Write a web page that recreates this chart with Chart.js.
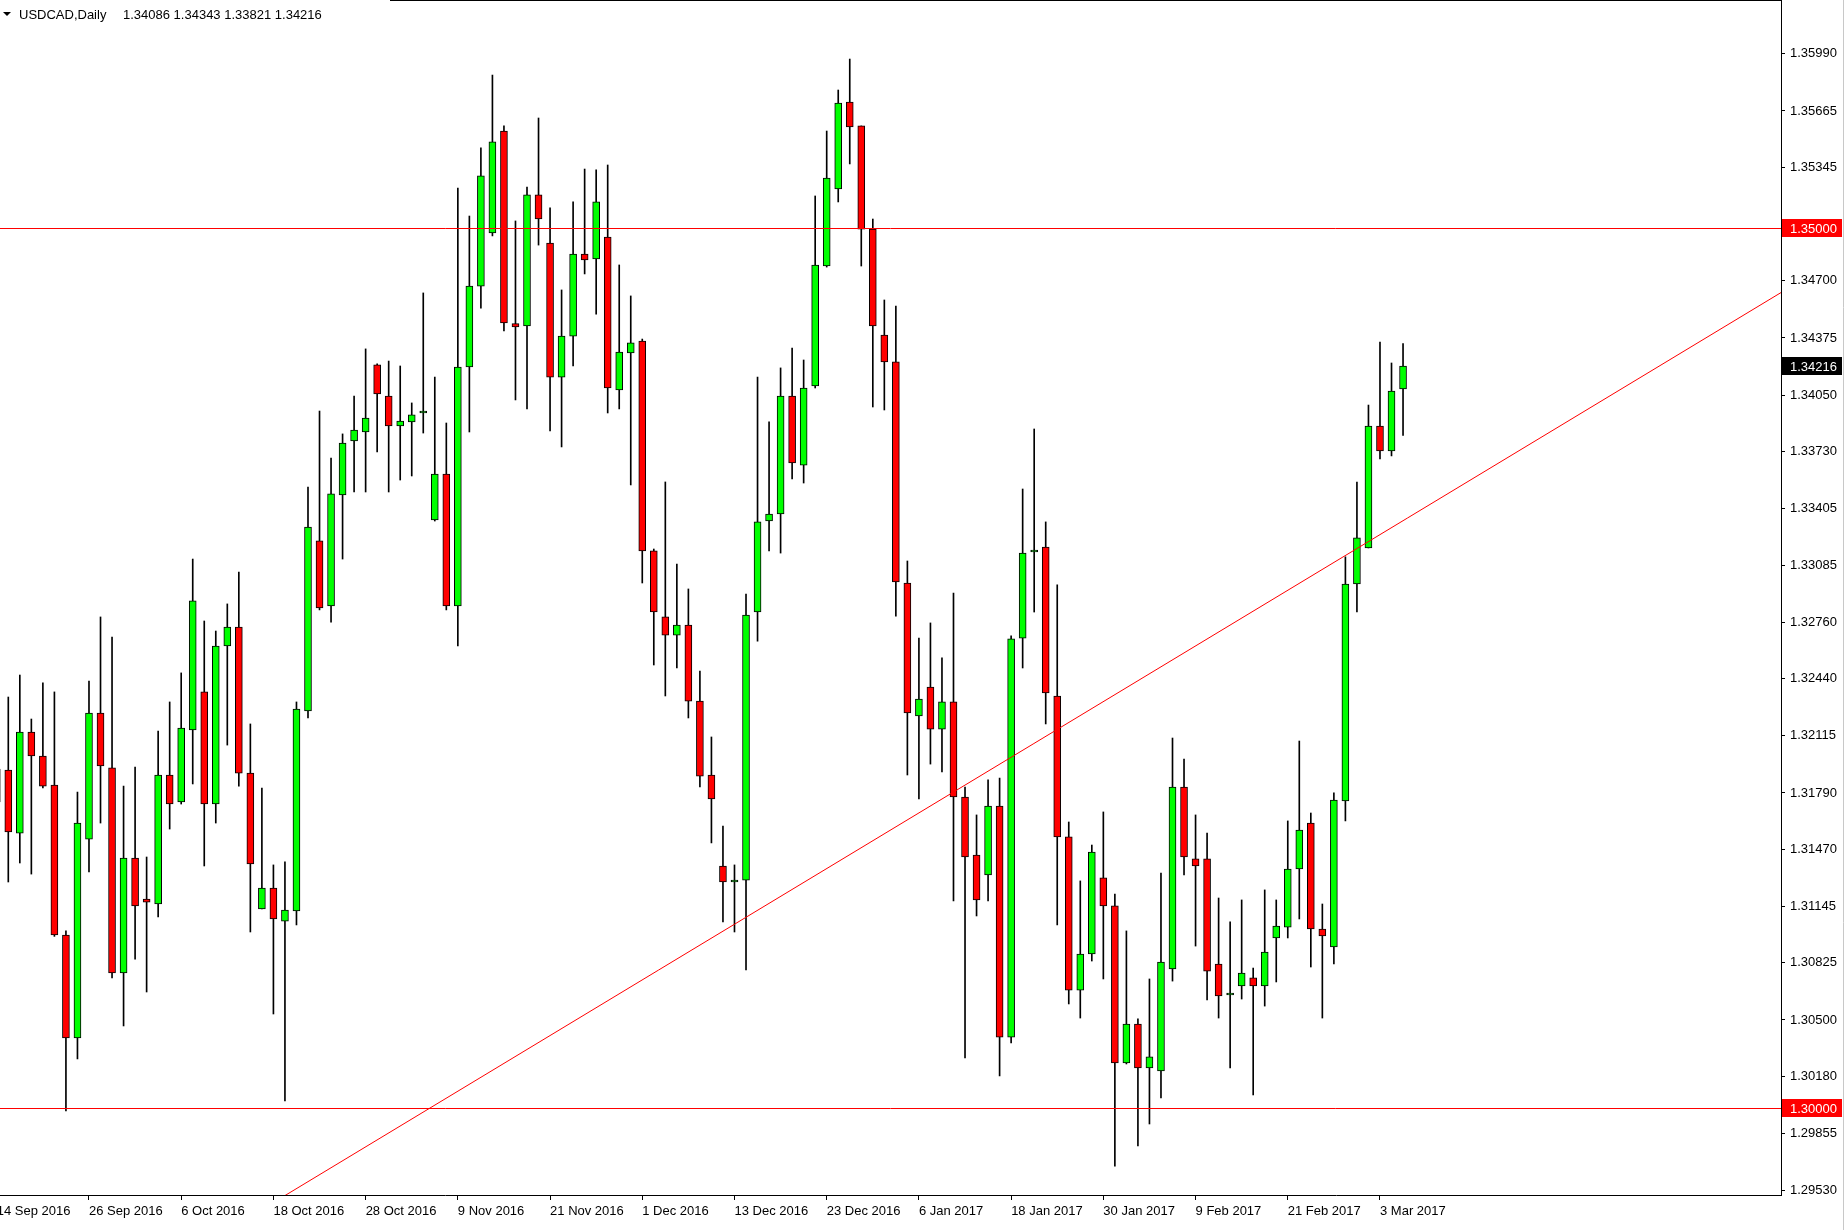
<!DOCTYPE html>
<html>
<head>
<meta charset="utf-8">
<title>USDCAD,Daily</title>
<script src="https://cdn.jsdelivr.net/npm/chart.js@4.4.1/dist/chart.umd.min.js"></script>
<style>
  html, body { margin: 0; padding: 0; background: #fff; overflow: hidden; }
  canvas { display: block; }
</style>
</head>
<body>
<canvas id="myChart" width="1845" height="1230"></canvas>
<script>
    const symbol = 'USDCAD,Daily';

    // daily candles, 14 Sep 2016 .. 7 Mar 2017
    const opens = [
        1.31739, 1.31920, 1.31562, 1.32136, 1.32000, 1.31835, 1.30983, 1.30398, 1.31528, 1.32244,
        1.31932, 1.30767, 1.31420, 1.31187, 1.31159, 1.31892, 1.31739, 1.32148, 1.32364, 1.31727,
        1.32625, 1.32733, 1.31903, 1.31131, 1.31250, 1.31062, 1.31119, 1.32256, 1.33222, 1.32852,
        1.33483, 1.33790, 1.33841, 1.34222, 1.34045, 1.33875, 1.33898, 1.33949, 1.33341, 1.33602,
        1.32852, 1.34210, 1.34670, 1.34972, 1.35551, 1.34457, 1.34443, 1.35188, 1.34915, 1.34153,
        1.34386, 1.34852, 1.34824, 1.34949, 1.34080, 1.34290, 1.34358, 1.33165, 1.32790, 1.32687,
        1.32744, 1.32312, 1.31892, 1.31375, 1.31284, 1.31295, 1.32818, 1.33335, 1.33375, 1.34045,
        1.33653, 1.34102, 1.34784, 1.35222, 1.35716, 1.35580, 1.34994, 1.34392, 1.34239, 1.32983,
        1.32227, 1.32392, 1.32153, 1.32307, 1.31767, 1.31437, 1.31324, 1.31716, 1.30403, 1.32670,
        1.33159, 1.33187, 1.32341, 1.31540, 1.30670, 1.30875, 1.31307, 1.31148, 1.30256, 1.30477,
        1.30227, 1.30210, 1.30790, 1.31824, 1.31415, 1.31415, 1.30818, 1.30642, 1.30693, 1.30739,
        1.30693, 1.30966, 1.31028, 1.31358, 1.31619, 1.31017, 1.30915, 1.31744, 1.32977, 1.33182,
        1.33875, 1.33733, 1.34086
    ];
    const highs = [
        1.32062, 1.32335, 1.32460, 1.32210, 1.32415, 1.32364, 1.31006, 1.31795, 1.32426, 1.32790,
        1.32676, 1.31829, 1.31937, 1.31426, 1.32142, 1.32307, 1.32472, 1.33119, 1.32767, 1.32710,
        1.32864, 1.33045, 1.32182, 1.31818, 1.31381, 1.31398, 1.32307, 1.33528, 1.33960, 1.33693,
        1.33830, 1.34045, 1.34313, 1.34228, 1.34244, 1.34216, 1.34006, 1.34631, 1.34153, 1.33892,
        1.35227, 1.35068, 1.35455, 1.35869, 1.35580, 1.35040, 1.35233, 1.35625, 1.35114, 1.34648,
        1.35148, 1.35335, 1.35330, 1.35358, 1.34790, 1.34614, 1.34369, 1.33176, 1.33557, 1.33091,
        1.32949, 1.32483, 1.32108, 1.31602, 1.31381, 1.32920, 1.34153, 1.33898, 1.34205, 1.34318,
        1.34250, 1.35182, 1.35551, 1.35784, 1.35960, 1.35580, 1.35051, 1.34591, 1.34557, 1.33108,
        1.32670, 1.32756, 1.32557, 1.32926, 1.31824, 1.31665, 1.31864, 1.31875, 1.32682, 1.33517,
        1.33858, 1.33330, 1.32972, 1.31625, 1.31290, 1.31494, 1.31682, 1.31216, 1.31006, 1.30506,
        1.30733, 1.31335, 1.32102, 1.31983, 1.31665, 1.31562, 1.31193, 1.31057, 1.31182, 1.30795,
        1.31239, 1.31182, 1.31631, 1.32085, 1.31676, 1.31159, 1.31790, 1.33131, 1.33557, 1.33994,
        1.34352, 1.34233, 1.34343
    ];
    const lows = [
        1.31551, 1.31284, 1.31392, 1.31329, 1.31818, 1.30975, 1.29983, 1.30278, 1.31341, 1.31619,
        1.30739, 1.30466, 1.30846, 1.30659, 1.31085, 1.31585, 1.31727, 1.31841, 1.31375, 1.31619,
        1.32062, 1.31829, 1.31000, 1.31131, 1.30534, 1.30040, 1.31040, 1.32216, 1.32830, 1.32761,
        1.33119, 1.33500, 1.33500, 1.33727, 1.33500, 1.33568, 1.33591, 1.33835, 1.33335, 1.32830,
        1.32625, 1.33841, 1.34545, 1.34955, 1.34415, 1.34023, 1.33972, 1.34903, 1.33847, 1.33756,
        1.34216, 1.34739, 1.34511, 1.33949, 1.33972, 1.33540, 1.32983, 1.32517, 1.32341, 1.32500,
        1.32216, 1.31824, 1.31506, 1.31057, 1.31000, 1.30784, 1.32653, 1.33165, 1.33153, 1.33574,
        1.33551, 1.34091, 1.34778, 1.35148, 1.35364, 1.34784, 1.33983, 1.33966, 1.32795, 1.31892,
        1.31756, 1.31954, 1.31909, 1.31176, 1.30284, 1.31091, 1.31176, 1.30182, 1.30369, 1.32500,
        1.32818, 1.32182, 1.31040, 1.30591, 1.30511, 1.30835, 1.30733, 1.29670, 1.30250, 1.29784,
        1.29909, 1.30057, 1.30721, 1.31324, 1.30920, 1.30614, 1.30511, 1.30227, 1.30619, 1.30074,
        1.30579, 1.30716, 1.30966, 1.31074, 1.30801, 1.30511, 1.30818, 1.31631, 1.32818, 1.33182,
        1.33688, 1.33705, 1.33821
    ];
    const closes = [
        1.31926, 1.31568, 1.32136, 1.32000, 1.31829, 1.30983, 1.30398, 1.31619, 1.32244, 1.31943,
        1.30767, 1.31420, 1.31148, 1.31170, 1.31892, 1.31727, 1.32159, 1.32881, 1.31727, 1.32625,
        1.32733, 1.31903, 1.31386, 1.31250, 1.31074, 1.31125, 1.32267, 1.33301, 1.32841, 1.33489,
        1.33778, 1.33852, 1.33920, 1.34057, 1.33875, 1.33903, 1.33938, 1.33949, 1.33602, 1.32852,
        1.34210, 1.34670, 1.35296, 1.35489, 1.34460, 1.34438, 1.35188, 1.35051, 1.34153, 1.34386,
        1.34852, 1.34818, 1.35148, 1.34091, 1.34295, 1.34347, 1.33165, 1.32818, 1.32687, 1.32744,
        1.32312, 1.31886, 1.31756, 1.31284, 1.31284, 1.32801, 1.33330, 1.33375, 1.34045, 1.33665,
        1.34091, 1.34790, 1.35284, 1.35710, 1.35574, 1.34994, 1.34443, 1.34239, 1.32989, 1.32244,
        1.32324, 1.32153, 1.32307, 1.31767, 1.31426, 1.31182, 1.31716, 1.30403, 1.32665, 1.33153,
        1.33159, 1.32358, 1.31540, 1.30670, 1.30875, 1.31454, 1.31148, 1.30256, 1.30477, 1.30227,
        1.30290, 1.30829, 1.31824, 1.31426, 1.31375, 1.30778, 1.30636, 1.30642, 1.30767, 1.30693,
        1.30886, 1.31034, 1.31358, 1.31579, 1.31017, 1.30977, 1.31750, 1.32977, 1.33239, 1.33875,
        1.33733, 1.34074, 1.34216
    ];

    // date axis: bar number of each labelled day
    const dateTickBars = [0, 8, 16, 24, 32, 40, 48, 56, 64, 72, 80, 88, 96, 104, 112, 120];
    const dateTickLabels = [
        '14 Sep 2016', '26 Sep 2016', '6 Oct 2016', '18 Oct 2016', '28 Oct 2016', '9 Nov 2016',
        '21 Nov 2016', '1 Dec 2016', '13 Dec 2016', '23 Dec 2016', '6 Jan 2017', '18 Jan 2017',
        '30 Jan 2017', '9 Feb 2017', '21 Feb 2017', '3 Mar 2017'
    ];
    const priceTicks = [
        1.29530, 1.29855, 1.30180, 1.30500, 1.30825, 1.31145, 1.31470, 1.31790, 1.32115, 1.32440,
        1.32760, 1.33085, 1.33405, 1.33730, 1.34050, 1.34375, 1.34700, 1.35345, 1.35665, 1.35990
    ];

    // drawn objects
    const levels = [1.35000, 1.30000];
    const trendX = [0, 160];
    const trendY = [1.28514, 1.34839];

    const FONT = '13px "Liberation Sans", Arial, sans-serif';
    const last = closes.length - 1;

    const bodies = opens.map((o, i) => ({ x: i, y: [o, closes[i]] }));
    const wicks = lows.map((l, i) => ({ x: i, y: [l, highs[i]] }));
    const bodyColors = opens.map((o, i) => closes[i] >= o ? '#00ff00' : '#ff0000');

    // no auto padding from the tick labels, the axes sit on fixed edges
    function noPadding(s) {
        s.paddingTop = 0;
        s.paddingBottom = 0;
        s.paddingLeft = 0;
        s.paddingRight = 0;
    }

    function drawPriceBox(ctx, scale, value, bg) {
        const py = Math.round(scale.getPixelForValue(value));
        ctx.fillStyle = bg;
        ctx.fillRect(scale.left + 1, py - 9, 60, 18);
        ctx.fillStyle = '#fff';
        ctx.textBaseline = 'middle';
        ctx.textAlign = 'left';
        ctx.fillText(value.toFixed(5), scale.left + 9, py + 1);
    }

    const mt4Overlay = {
        id: 'mt4Overlay',
        beforeDraw(chart) {
            const ctx = chart.ctx;
            ctx.save();
            ctx.fillStyle = '#fff';
            ctx.fillRect(0, 0, chart.width, chart.height);
            ctx.restore();
        },
        afterDatasetsDraw(chart) {
            const { ctx, chartArea, scales: { y } } = chart;
            ctx.save();
            ctx.strokeStyle = '#ff0000';
            ctx.lineWidth = 1;
            levels.forEach(v => {
                const py = Math.round(y.getPixelForValue(v)) + 0.5;
                ctx.beginPath();
                ctx.moveTo(chartArea.left, py);
                ctx.lineTo(chartArea.right, py);
                ctx.stroke();
            });
            ctx.restore();
        },
        afterDraw(chart) {
            const { ctx, chartArea, scales: { y } } = chart;
            ctx.save();
            ctx.font = FONT;

            // frame top + window edge
            ctx.strokeStyle = '#000';
            ctx.lineWidth = 1;
            ctx.beginPath();
            ctx.moveTo(390, 0.5);
            ctx.lineTo(chartArea.right + 1, 0.5);
            ctx.stroke();
            ctx.strokeStyle = '#c8c8c8';
            ctx.beginPath();
            ctx.moveTo(1843.5, 0);
            ctx.lineTo(1843.5, chart.height);
            ctx.stroke();

            // header
            ctx.fillStyle = '#000';
            ctx.beginPath();
            ctx.moveTo(3, 12);
            ctx.lineTo(11, 12);
            ctx.lineTo(7, 16);
            ctx.closePath();
            ctx.fill();
            ctx.textBaseline = 'middle';
            ctx.fillText(symbol, 19, 15);
            const ohlc = [opens[last], highs[last], lows[last], closes[last]].map(v => v.toFixed(5)).join(' ');
            ctx.fillText(ohlc, 123, 15);

            // price labels on the axis
            levels.forEach(v => drawPriceBox(ctx, y, v, '#ff0000'));
            drawPriceBox(ctx, y, closes[last], '#000');
            ctx.restore();
        }
    };

    const ctx = document.getElementById('myChart').getContext('2d');
    const chart = new Chart(ctx, {
        type: 'bar',
        data: {
            datasets: [
                {
                    type: 'line',
                    data: trendX.map((x, i) => ({ x, y: trendY[i] })),
                    borderColor: '#ff0000',
                    borderWidth: 1,
                    pointRadius: 0,
                    order: 0
                },
                {
                    data: bodies,
                    backgroundColor: bodyColors,
                    borderColor: '#000',
                    borderWidth: 1,
                    borderSkipped: false,
                    barThickness: 7,
                    minBarLength: 2,
                    grouped: false,
                    order: 1
                },
                {
                    data: wicks,
                    backgroundColor: '#000',
                    borderWidth: 0,
                    barThickness: 1,
                    grouped: false,
                    order: 2
                }
            ]
        },
        options: {
            responsive: false,
            animation: false,
            events: [],
            layout: { autoPadding: false, padding: 0 },
            plugins: { legend: { display: false }, tooltip: { enabled: false } },
            scales: {
                x: {
                    type: 'linear',
                    position: 'bottom',
                    offset: false,
                    min: 0.28,
                    max: 154.79,
                    afterBuildTicks: s => { s.ticks = dateTickBars.map(v => ({ value: v })); },
                    afterFit: s => { s.height = 35; noPadding(s); },
                    grid: { offset: false, drawOnChartArea: false, tickLength: 5, color: '#000', tickColor: '#000' },
                    border: { display: true, color: '#000', width: 1 },
                    ticks: {
                        autoSkip: false,
                        maxRotation: 0,
                        minRotation: 0,
                        align: 'start',
                        padding: 4,
                        color: '#000',
                        font: { family: '"Liberation Sans", Arial, sans-serif', size: 13 },
                        callback: (v, i) => dateTickLabels[i]
                    }
                },
                y: {
                    type: 'linear',
                    position: 'right',
                    min: 1.295055,
                    max: 1.362955,
                    afterBuildTicks: s => { s.ticks = priceTicks.map(v => ({ value: v })); },
                    afterFit: s => { s.width = 64; noPadding(s); },
                    grid: { drawOnChartArea: false, tickLength: 4, color: '#000', tickColor: '#000' },
                    border: { display: true, color: '#000', width: 1 },
                    ticks: {
                        padding: 5,
                        color: '#000',
                        font: { family: '"Liberation Sans", Arial, sans-serif', size: 13 },
                        callback: v => v.toFixed(5)
                    }
                }
            }
        },
        plugins: [mt4Overlay]
    });
</script>
</body>
</html>
